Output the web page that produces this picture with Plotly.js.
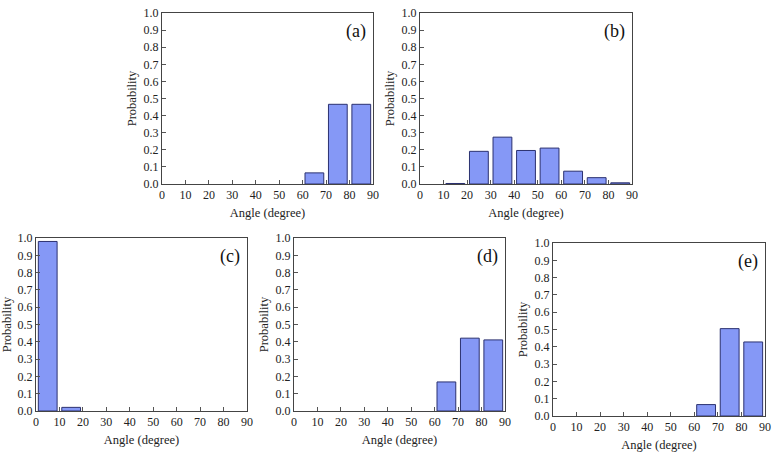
<!DOCTYPE html>
<html>
<head>
<meta charset="utf-8">
<script src="https://cdn.plot.ly/plotly-3.0.1.min.js"></script>
<style>html,body{margin:0;padding:0;background:#fff;}#chart{width:776px;height:455px;}</style>
</head>
<body>
<div id="chart"></div>
<script>
// Bin centers (degrees) and probabilities per panel
const binCenters = [5, 15, 25, 35, 45, 55, 65, 75, 85];
const probA = [0, 0, 0, 0, 0, 0, 0.065, 0.466, 0.466];
const probB = [0, 0.003, 0.191, 0.274, 0.196, 0.21, 0.075, 0.037, 0.007];
const probC = [0.98, 0.021, 0, 0, 0, 0, 0, 0, 0];
const probD = [0, 0, 0, 0, 0, 0, 0.168, 0.421, 0.411];
const probE = [0, 0, 0, 0, 0, 0, 0.066, 0.505, 0.428];
const panelLabels = ['(a)', '(b)', '(c)', '(d)', '(e)'];
const xTickVals = [0, 10, 20, 30, 40, 50, 60, 70, 80, 90];
const yTickVals = [0, 0.1, 0.2, 0.3, 0.4, 0.5, 0.6, 0.7, 0.8, 0.9, 1.0];
const xTitle = 'Angle (degree)';
const yTitle = 'Probability';

const series = [probA, probB, probC, probD, probE];
const W = 776, H = 455;
// plot-area pixel boxes [left, right, top, bottom]
const boxes = [
  [162, 373, 13, 184],
  [420, 632, 13, 184],
  [36, 247, 238, 411],
  [294, 505, 238, 411],
  [553, 765, 243, 416]
];
const FONT = 'Liberation Serif';
const traces = [];
const layout = {
  width: W, height: H,
  margin: {l: 0, r: 0, t: 0, b: 0},
  paper_bgcolor: '#fff', plot_bgcolor: '#fff',
  showlegend: false,
  font: {family: FONT, size: 11, color: '#222'},
  annotations: []
};
series.forEach((vals, i) => {
  const n = i === 0 ? '' : String(i + 1);
  traces.push({
    type: 'bar', x: binCenters, y: vals.map(v => (v === 0 ? null : v)), width: 8,
    xaxis: 'x' + n, yaxis: 'y' + n,
    marker: {color: '#8598f6', line: {color: '#2b3170', width: 1}},
    hoverinfo: 'x+y'
  });
  const b = boxes[i];
  const common = {
    showline: true, mirror: true, linecolor: '#444', linewidth: 1,
    ticks: 'inside', ticklen: 4, tickcolor: '#555', tickwidth: 1,
    showgrid: false, zeroline: false, fixedrange: true,
    tickfont: {family: FONT, size: 12, color: '#222'}
  };
  layout['xaxis' + n] = Object.assign({}, common, {
    domain: [b[0] / W, b[1] / W], anchor: 'y' + n,
    range: [0, 90], tickvals: xTickVals, ticktext: xTickVals.map(String),
    title: {text: xTitle, font: {family: FONT, size: 12.5, color: '#222'}, standoff: 6}
  });
  layout['yaxis' + n] = Object.assign({}, common, {
    domain: [1 - b[3] / H, 1 - b[2] / H], anchor: 'x' + n,
    range: [0, 1.0], tickvals: yTickVals, ticktext: yTickVals.map(v => v.toFixed(1)),
    title: {text: yTitle, font: {family: FONT, size: 12.5, color: '#222'}, standoff: 4}
  });
  layout.annotations.push({
    text: panelLabels[i], xref: 'x' + n + ' domain', yref: 'y' + n + ' domain',
    x: 0.975, y: 0.965, xanchor: 'right', yanchor: 'top', showarrow: false,
    font: {family: FONT, size: 18, color: '#111'}
  });
});
Plotly.newPlot('chart', traces, layout, {displayModeBar: false, staticPlot: true});
</script>
</body>
</html>
